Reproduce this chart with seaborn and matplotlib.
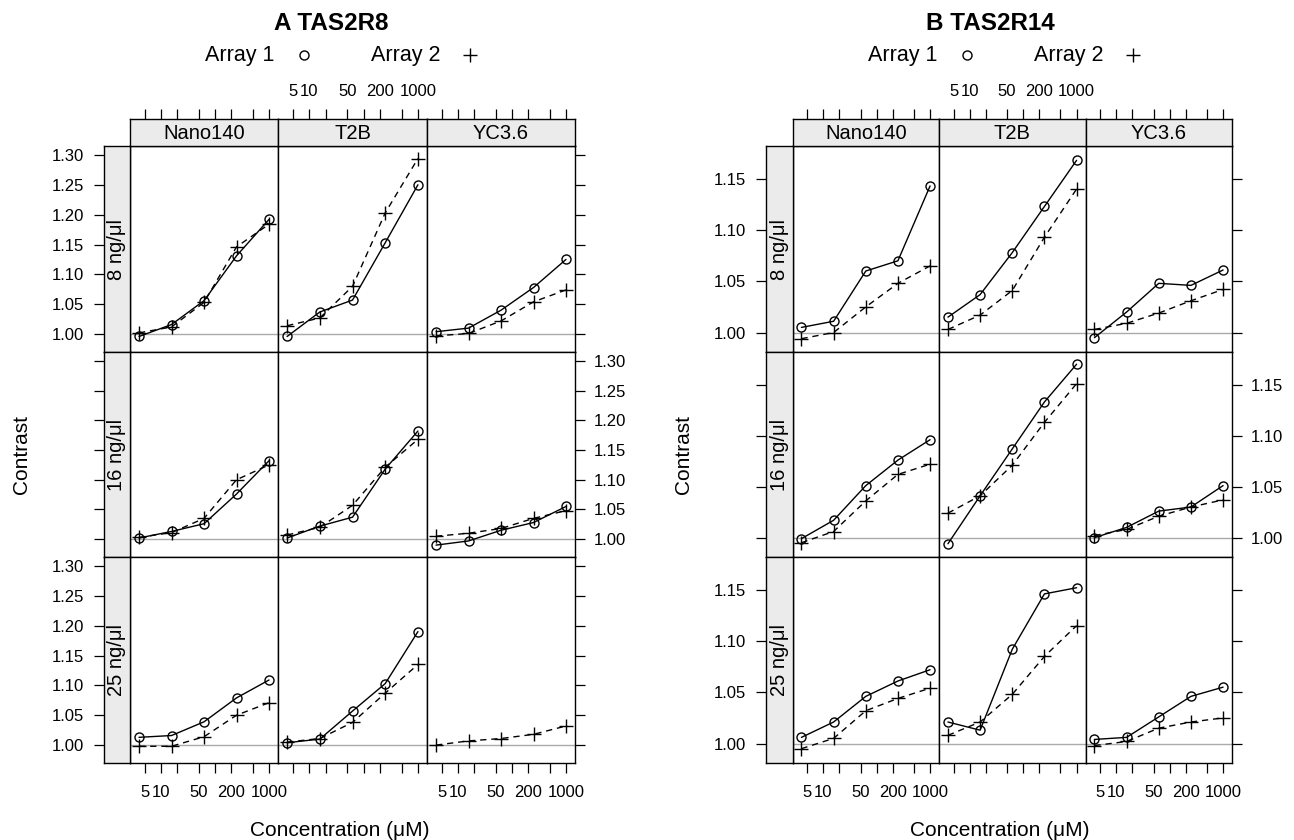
import numpy as np
import pandas as pd
import matplotlib
matplotlib.use("Agg")
import matplotlib.pyplot as plt
from matplotlib.lines import Line2D
from matplotlib.ticker import NullLocator
import seaborn as sns

# --- data ---
conc = [3.9, 15.6, 62.5, 250, 1000]
sensors = ["Nano140", "T2B", "YC3.6"]
doses = ["8 ng/μl", "16 ng/μl", "25 ng/μl"]
x_ticks = [5, 10, 20, 50, 100, 200, 500, 1000]
x_ticklabels = ["5", "10", "", "50", "", "200", "", "1000"]

# rows = doses, columns = sensors
r8_array1 = [
    [[0.996, 1.016, 1.056, 1.131, 1.192], [0.996, 1.037, 1.057, 1.153, 1.250], [1.004, 1.010, 1.040, 1.078, 1.125]],
    [[1.002, 1.013, 1.026, 1.076, 1.132], [1.002, 1.022, 1.037, 1.118, 1.182], [0.990, 0.997, 1.015, 1.028, 1.055]],
    [[1.013, 1.016, 1.039, 1.079, 1.109], [1.004, 1.010, 1.057, 1.103, 1.190], [None, None, None, None, None]],
]
r8_array2 = [
    [[1.002, 1.012, 1.053, 1.146, 1.184], [1.014, 1.027, 1.080, 1.203, 1.294], [0.997, 1.001, 1.022, 1.054, 1.074]],
    [[1.003, 1.011, 1.035, 1.100, 1.125], [1.007, 1.020, 1.057, 1.121, 1.168], [1.005, 1.010, 1.018, 1.035, 1.048]],
    [[0.998, 0.998, 1.014, 1.050, 1.071], [1.005, 1.011, 1.038, 1.087, 1.135], [1.000, 1.007, 1.011, 1.018, 1.032]],
]
r14_array1 = [
    [[1.005, 1.011, 1.060, 1.070, 1.143], [1.015, 1.037, 1.078, 1.123, 1.168], [0.995, 1.020, 1.048, 1.046, 1.061]],
    [[0.999, 1.017, 1.051, 1.076, 1.096], [0.994, 1.041, 1.087, 1.133, 1.170], [1.000, 1.010, 1.026, 1.030, 1.051]],
    [[1.006, 1.021, 1.046, 1.061, 1.072], [1.021, 1.013, 1.092, 1.146, 1.152], [1.004, 1.006, 1.026, 1.046, 1.055]],
]
r14_array2 = [
    [[0.994, 1.000, 1.025, 1.048, 1.065], [1.003, 1.017, 1.041, 1.093, 1.140], [1.003, 1.009, 1.019, 1.031, 1.042]],
    [[0.995, 1.006, 1.036, 1.062, 1.072], [1.024, 1.041, 1.071, 1.113, 1.151], [1.002, 1.008, 1.021, 1.030, 1.037]],
    [[0.995, 1.005, 1.032, 1.044, 1.054], [1.008, 1.021, 1.048, 1.085, 1.115], [0.998, 1.002, 1.015, 1.021, 1.025]],
]

sns.set_style("ticks")
plt.rcParams["font.family"] = ["Liberation Sans", "DejaVu Sans"]
plt.rcParams["text.color"] = "black"

W, H = 1294, 840
fig = plt.figure(figsize=(W / 100, H / 100), dpi=100)


def add_px(x0, y0, x1, y1):
    return fig.add_axes([x0 / W, 1 - y1 / H, (x1 - x0) / W, (y1 - y0) / H])


def fx(x):
    return x / W


def fy(y):
    return 1 - y / H


def long_table(arr1, arr2):
    rows = []
    for di, dose in enumerate(doses):
        for si, sensor in enumerate(sensors):
            for name, arr in (("Array 1", arr1), ("Array 2", arr2)):
                for c, v in zip(conc, arr[di][si]):
                    if v is not None:
                        rows.append(dict(dose=dose, sensor=sensor, array=name, conc=c, contrast=v))
    return pd.DataFrame(rows)


charts = [
    dict(title="A TAS2R8", df=long_table(r8_array1, r8_array2),
         cols=[130, 278, 427, 575], left=104, ylim=(0.970, 1.315),
         yticks=[1.00, 1.05, 1.10, 1.15, 1.20, 1.25, 1.30],
         cx=340, tx=331, ylab_x=22, leg=[205, 304, 371, 470]),
    dict(title="B TAS2R14", df=long_table(r14_array1, r14_array2),
         cols=[792.5, 939, 1085.5, 1232], left=766, ylim=(0.981, 1.182),
         yticks=[1.00, 1.05, 1.10, 1.15],
         cx=1000, tx=990, ylab_x=684, leg=[868, 967, 1034, 1133]),
]

# line look of the two arrays
array_style = {
    "Array 1": dict(marker="o", ms=6.5, ls="-"),
    "Array 2": dict(marker="+", ms=9.5, ls=(0, (4.5, 3.5))),
}

row_px = [146, 352, 557, 763]
strip_top = 119
xlim = (2.65, 1470)
strip_col = "#ebebeb"
tick_kw = dict(direction="out", length=7.5, width=0.9, labelsize=12, colors="black")


def frame(a):
    for s in a.spines.values():
        s.set_visible(True)
        s.set_linewidth(1.0)
        s.set_color("black")


for ch in charts:
    cols = ch["cols"]
    df = ch["df"]
    ylab = ["%.2f" % t for t in ch["yticks"]]

    for i, dose in enumerate(doses):
        for j, sensor in enumerate(sensors):
            ax = add_px(cols[j], row_px[i], cols[j + 1], row_px[i + 1])
            ax.set_xscale("log")
            ax.axhline(1.0, color="#aaaaaa", lw=1, zorder=0)
            sub = df[(df["dose"] == dose) & (df["sensor"] == sensor)]
            for name, st in array_style.items():
                part = sub[sub["array"] == name]
                if part.empty:
                    continue
                sns.lineplot(data=part, x="conc", y="contrast", color="black",
                             lw=1, marker=st["marker"], ms=st["ms"], linestyle=st["ls"],
                             mec="black", mfc="none", mew=1, errorbar=None, ax=ax)
            ax.set_xlim(xlim)
            ax.set_ylim(ch["ylim"])
            ax.set_xlabel("")
            ax.set_ylabel("")
            ax.xaxis.set_minor_locator(NullLocator())
            ax.set_xticks(x_ticks)
            ax.set_xticklabels(x_ticklabels)
            ax.set_yticks(ch["yticks"])
            ax.set_yticklabels(ylab)
            ax.tick_params(axis="x", which="both", bottom=(i == 2), top=False,
                           labelbottom=(i == 2 and j != 1), pad=8, **tick_kw)
            ax.tick_params(axis="y", left=False, right=(j == 2), labelleft=False,
                           labelright=(j == 2 and i == 1), pad=6, **tick_kw)
            frame(ax)

        # row strip on the left, carrying the left axis
        sax = add_px(ch["left"], row_px[i], cols[0], row_px[i + 1])
        sax.set_facecolor(strip_col)
        sax.set_ylim(ch["ylim"])
        sax.set_xticks([])
        sax.set_yticks(ch["yticks"])
        sax.set_yticklabels(ylab)
        sax.tick_params(axis="y", left=True, right=False, labelleft=(i != 1), pad=7, **tick_kw)
        frame(sax)
        sax.text(0.5, 0.5, dose, rotation=90, ha="center", va="center",
                 fontsize=14.5, transform=sax.transAxes)

    # column strips on top, carrying the top axis
    for j, sensor in enumerate(sensors):
        tax = add_px(cols[j], strip_top, cols[j + 1], row_px[0])
        tax.set_facecolor(strip_col)
        tax.set_xscale("log")
        tax.set_xlim(xlim)
        tax.xaxis.set_minor_locator(NullLocator())
        tax.set_xticks(x_ticks)
        tax.set_xticklabels(x_ticklabels)
        tax.set_yticks([])
        tax.tick_params(axis="x", which="both", top=True, bottom=False,
                        labeltop=(j == 1), labelbottom=False, pad=7, **tick_kw)
        frame(tax)
        tax.text(0.5, 0.45, sensor, ha="center", va="center", fontsize=14.5,
                 transform=tax.transAxes)

    # titles, key and axis labels
    fig.text(fx(ch["tx"]), fy(24), ch["title"], ha="center", va="center",
             fontsize=17.5, fontweight="bold")
    lx = ch["leg"]
    fig.text(fx(lx[0]), fy(55), "Array 1", ha="left", va="center", fontsize=15.5)
    fig.text(fx(lx[2]), fy(55), "Array 2", ha="left", va="center", fontsize=15.5)
    fig.add_artist(Line2D([fx(lx[1])], [fy(55)], transform=fig.transFigure, ls="none",
                          marker="o", ms=6.5, mfc="none", mec="black", mew=1))
    fig.add_artist(Line2D([fx(lx[3])], [fy(55)], transform=fig.transFigure, ls="none",
                          marker="+", ms=9.5, mec="black", mew=1))
    fig.text(fx(ch["cx"]), fy(830), "Concentration (μM)", ha="center", va="center", fontsize=15)
    fig.text(fx(ch["ylab_x"]), fy(455), "Contrast", rotation=90, ha="center", va="center",
             fontsize=15)

fig.savefig("out.png", dpi=100)
